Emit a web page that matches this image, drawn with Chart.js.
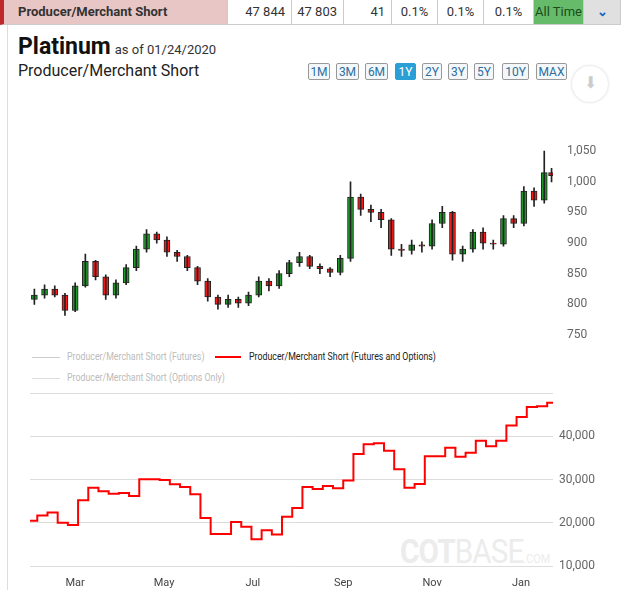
<!DOCTYPE html>
<html>
<head>
<meta charset="utf-8">
<script src="https://cdn.jsdelivr.net/npm/chart.js@4"></script>
<style>
body { margin:0; width:625px; height:590px; overflow:hidden; background:#fff; font-family:'Liberation Sans Narrow','Roboto',Arial,sans-serif; position:relative; }
.abs { position:absolute; }
.row { top:0; left:0; width:625px; height:25px; display:flex; font-size:13px; color:#333; }
.row div { border-right:1px solid #ccc; border-bottom:1px solid #ccc; box-sizing:border-box; height:25px; line-height:24px; }
.btn { top:63px; height:17px; line-height:16px; font-size:12px; color:#2a6ea0; border:1px solid #999; border-radius:2px; text-align:center; background:#f4f7fa; box-sizing:border-box; }
.leg { font-size:11px; color:#bbb; transform:scaleX(0.8); transform-origin:left; white-space:nowrap; }
</style>
</head>
<body>
<div class="abs row">
  <div style="width:228px;background:#e8c6c6;border-left:4px solid #c0282d;font-weight:bold;padding-left:14px;">Producer/Merchant Short</div>
  <div style="width:64px;text-align:right;padding-right:6px;">47 844</div>
  <div style="width:52px;text-align:right;padding-right:6px;">47 803</div>
  <div style="width:48px;text-align:right;padding-right:6px;">41</div>
  <div style="width:46px;text-align:center;">0.1%</div>
  <div style="width:46px;text-align:center;">0.1%</div>
  <div style="width:50px;text-align:center;">0.1%</div>
  <div style="width:50px;text-align:center;background:#66bb6a;color:#1b4d1b;">All Time</div>
  <div style="width:37px;text-align:center;background:#e0e0e0;color:#1565c0;font-weight:bold;">&#8964;</div>
</div>
<div class="abs" style="left:7px;top:25px;width:1px;height:565px;background:#ddd;"></div>
<div class="abs" style="left:18px;top:33px;color:#111;"><span style="font-size:23px;font-weight:bold;">Platinum</span> <span style="font-size:13px;color:#333;">as of 01/24/2020</span></div>
<div class="abs" style="left:18px;top:61px;font-size:16px;color:#222;">Producer/Merchant Short</div>
<div class="abs btn" style="left:308px;width:22px;">1M</div>
<div class="abs btn" style="left:336px;width:23px;">3M</div>
<div class="abs btn" style="left:365px;width:23px;">6M</div>
<div class="abs btn" style="left:395px;width:21px;background:#2a9fd6;color:#fff;border-color:#2a9fd6;">1Y</div>
<div class="abs btn" style="left:422px;width:20px;">2Y</div>
<div class="abs btn" style="left:448px;width:20px;">3Y</div>
<div class="abs btn" style="left:474px;width:20px;">5Y</div>
<div class="abs btn" style="left:502px;width:27px;">10Y</div>
<div class="abs btn" style="left:536px;width:31px;">MAX</div>
<div class="abs" style="left:572px;top:66px;width:36px;height:36px;border-radius:18px;box-shadow:0 0 3px #ccc;text-align:center;line-height:34px;color:#ccc;font-size:16px;">&#11015;</div>
<div class="abs" style="left:400px;top:532px;font-size:33px;color:#ececec;letter-spacing:-1px;transform:scaleX(0.9);transform-origin:left;white-space:nowrap;"><b>COT</b>BASE<span style="font-size:12px;letter-spacing:0;">.COM</span></div>
<div class="abs" style="left:32px;top:357px;width:28px;height:1px;background:#ccc;"></div>
<div class="abs leg" style="left:67px;top:350px;">Producer/Merchant Short (Futures)</div>
<div class="abs" style="left:215px;top:356px;width:26px;height:2px;background:#f00;"></div>
<div class="abs leg" style="left:249px;top:350px;color:#222;">Producer/Merchant Short (Futures and Options)</div>
<div class="abs" style="left:32px;top:378px;width:28px;height:1px;background:#ddd;"></div>
<div class="abs leg" style="left:67px;top:371px;">Producer/Merchant Short (Options Only)</div>
<canvas id="priceChart" class="abs" style="left:0;top:130px;" width="625" height="220"></canvas>
<canvas id="cotChart" class="abs" style="left:0;top:380px;" width="625" height="210"></canvas>
<script>
// weekly candles, day index counted from 2019-01-29
var candleDays = [3,10,17,24,31,38,45,52,59,66,73,80,87,94,101,108,115,122,129,136,143,150,157,164,171,178,185,192,199,206,213,220,227,234,241,248,255,262,269,276,283,290,297,304,311,318,325,332,339,346,353,358];
var opens  = [808,815,825,815,790,830,870,845,815,835,860,890,915,905,885,878,860,838,812,800,808,802,815,838,830,850,868,878,862,858,852,875,975,955,950,938,890,888,897,895,932,950,882,890,918,900,898,940,932,985,970,1015];
var closes = [815,825,815,790,830,870,845,815,835,860,890,915,905,885,878,860,838,812,800,808,802,815,838,830,850,868,878,862,858,852,875,975,955,950,938,890,888,897,895,932,950,882,890,918,900,898,940,932,985,970,1015,1010];
var highs  = [825,832,830,818,835,882,872,848,840,865,895,922,918,910,888,880,862,842,815,815,812,820,845,842,855,872,885,880,866,860,880,1000,980,962,955,940,898,905,902,938,960,952,895,922,925,905,945,945,992,990,1050,1022];
var lows   = [800,810,812,782,788,828,840,808,810,832,855,885,900,878,870,855,832,805,792,795,795,798,812,822,826,845,862,858,850,845,848,870,945,935,925,880,878,882,885,890,925,872,870,885,890,890,895,925,928,960,965,1000];
var priceTicks = [750,800,850,900,950,1000,1050];

var cotDays   = [0,5,12,19,26,33,40,47,54,61,68,75,82,89,96,103,110,117,124,131,138,145,152,159,166,173,180,187,194,201,208,215,222,229,236,243,250,257,264,271,278,285,292,299,306,313,320,327,334,341,348,355,359];
var cotShort  = [20450,21700,22400,20000,19500,25200,28100,27300,26700,26900,26200,30100,30100,29900,28900,28300,26600,21100,17400,17400,20200,19100,16200,18300,17300,21400,23400,28300,27800,28500,28000,29800,35900,38200,38400,36700,32400,28100,29000,35400,35400,37400,35300,36200,39000,37700,39000,42500,44500,46800,47000,47800,47900];
var cotTicks  = [10000,20000,30000,40000,50000];

var monthTicks  = [31,92,153,215,276,337];
var monthLabels = ['Mar','May','Jul','Sep','Nov','Jan'];

document.addEventListener('DOMContentLoaded', function() {
    var fontFam = "'Liberation Sans Narrow', Roboto, Arial, sans-serif";
    var wicks = candleDays.map(function(d, i) { return {x: d, y: [lows[i], highs[i]]}; });
    var bodies = candleDays.map(function(d, i) { return {x: d, y: [opens[i], closes[i]]}; });
    var bodyColors = candleDays.map(function(d, i) { return closes[i] >= opens[i] ? '#1f9a2a' : '#ff1a1a'; });

    new Chart(document.getElementById('priceChart').getContext('2d'), {
        type: 'bar',
        data: {
            datasets: [{
                data: wicks, backgroundColor: '#222', barThickness: 1, grouped: false
            }, {
                data: bodies, backgroundColor: bodyColors, borderColor: '#222', borderWidth: 1,
                borderSkipped: false, barThickness: 6, grouped: false
            }]
        },
        options: {
            responsive: false, animation: false,
            layout: { padding: { left: 30, top: 4, bottom: 2 } },
            plugins: { legend: { display: false }, tooltip: { enabled: false } },
            scales: {
                x: { type: 'linear', min: 0, max: 359, offset: false, display: false },
                y: {
                    position: 'right', min: 747, max: 1063,
                    grid: { display: false }, border: { display: false },
                    afterBuildTicks: function(s) { s.ticks = priceTicks.map(function(v) { return {value: v}; }); },
                    afterFit: function(s) { s.width = 72; },
                    ticks: { padding: 6, color: '#666', font: { family: fontFam, size: 12 },
                        callback: function(v) { return v.toLocaleString('en-US'); } }
                }
            }
        }
    });

    new Chart(document.getElementById('cotChart').getContext('2d'), {
        type: 'line',
        data: {
            datasets: [{
                data: cotDays.map(function(d, i) { return {x: d, y: cotShort[i]}; }),
                borderColor: '#ff0000', borderWidth: 2, pointRadius: 0, stepped: true, fill: false
            }]
        },
        options: {
            responsive: false, animation: false,
            layout: { padding: { left: 30, top: 3 } },
            plugins: { legend: { display: false }, tooltip: { enabled: false } },
            scales: {
                x: {
                    type: 'linear', min: 0, max: 359,
                    grid: { display: false }, border: { display: false },
                    afterBuildTicks: function(s) { s.ticks = monthTicks.map(function(v) { return {value: v}; }); },
                    afterFit: function(s) { s.height = 24; },
                    ticks: { color: '#444', maxRotation: 0, font: { family: fontFam, size: 11 },
                        callback: function(v) { return monthLabels[monthTicks.indexOf(v)]; } }
                },
                y: {
                    position: 'right', min: 10000, max: 50000,
                    grid: { color: '#dcdcdc', lineWidth: 1, drawTicks: false }, border: { display: false },
                    afterBuildTicks: function(s) { s.ticks = cotTicks.map(function(v) { return {value: v}; }); },
                    afterFit: function(s) { s.width = 72; },
                    ticks: { padding: 6, color: '#666', font: { family: fontFam, size: 12 },
                        callback: function(v) { return v === 50000 ? '' : v.toLocaleString('en-US'); } }
                }
            }
        }
    });
});
</script>
</body>
</html>
